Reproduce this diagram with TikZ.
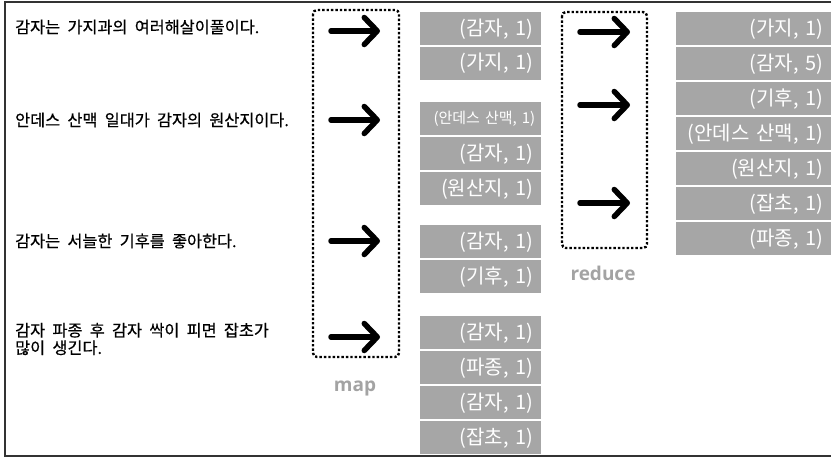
\documentclass[tikz,border=0pt]{standalone}
\usepackage{fontspec}
\setmainfont{Noto Sans CJK KR}
\newfontfamily\krfont[WordSpace=1.5]{Noto Sans CJK KR}
\newfontfamily\krsmall[WordSpace=1.1]{Noto Sans CJK KR}
\newfontfamily\krsent[WordSpace=2,FakeBold=0.6]{Noto Sans CJK KR}
\newfontfamily\lblfont{Open Sans}
\usetikzlibrary{arrows.meta}
\definecolor{boxgray}{HTML}{A6A6A6}
\definecolor{lblgray}{HTML}{A3A3A3}
\definecolor{framec}{HTML}{333333}
\tikzset{
  kv/.style={fill=boxgray, text=white, font=\krfont\fontsize{20}{21}\selectfont,
    minimum height=33pt, text width=105pt, align=right, inner xsep=8pt, inner ysep=0pt,
    anchor=north west},
  kvsmall/.style={kv, font=\krsmall\fontsize{15}{16}\selectfont, inner xsep=6pt, text width=109pt},
  kvres/.style={kv, text width=139pt},
  sent/.style={font=\krsent\fontsize{16.3}{17.5}\selectfont, anchor=west, align=left, inner sep=0pt},
  stagebox/.style={draw=black, line width=2.4pt, dotted, rounded corners=4pt},
  bigarrow/.style={line width=5.5pt, line cap=round,
    -{Straight Barb[length=13pt, width=27pt, line width=5.5pt, round]}},
  stagelbl/.style={font=\lblfont\bfseries\fontsize{19}{20}\selectfont, text=lblgray, inner sep=0pt}
}
\begin{document}
\begin{tikzpicture}[x=1pt, y=-1pt]
\useasboundingbox (0,0) rectangle (831,458);
\draw[framec, line width=1.2pt] (5,2) rectangle (840,456);

% sentences
\node[sent] (s1) at (15,27) {감자는 가지과의 여러해살이풀이다.};
\node[sent] (s2) at (15,120) {안데스 산맥 일대가 감자의 원산지이다.};
\node[sent] (s3) at (15,241) {감자는 서늘한 기후를 좋아한다.};
\node[sent] (s4) at (15,339) {감자 파종 후 감자 싹이 피면 잡초가\\많이 생긴다.};

% map stage
\draw[stagebox] (313,10) rectangle (399,357);
\node[stagelbl] (maplbl) at (355,388) {map};
\coordinate (ma1) at (331,31);  \coordinate (mb1) at (380,31);
\coordinate (ma2) at (331,120); \coordinate (mb2) at (380,120);
\coordinate (ma3) at (331,241); \coordinate (mb3) at (380,241);
\coordinate (ma4) at (331,337); \coordinate (mb4) at (380,337);
\draw[bigarrow] (ma1) -- (mb1);
\draw[bigarrow] (ma2) -- (mb2);
\draw[bigarrow] (ma3) -- (mb3);
\draw[bigarrow] (ma4) -- (mb4);

% map outputs
\node[kv] (m11) at (420,12) {(감자, 1)};
\node[kv] (m12) at (420,46.5) {(가지, 1)};
\node[kvsmall] (m21) at (420,102) {(안데스 산맥, 1)};
\node[kv] (m22) at (420,137) {(감자, 1)};
\node[kv] (m23) at (420,172) {(원산지, 1)};
\node[kv] (m31) at (420,225) {(감자, 1)};
\node[kv] (m32) at (420,260) {(기후, 1)};
\node[kv] (m41) at (420,316) {(감자, 1)};
\node[kv] (m42) at (420,351) {(파종, 1)};
\node[kv] (m43) at (420,386) {(감자, 1)};
\node[kv] (m44) at (420,421) {(잡초, 1)};

% reduce stage
\draw[stagebox] (562,12) rectangle (647,248);
\node[stagelbl] (redlbl) at (603,273) {reduce};
\coordinate (ra1) at (580,32);  \coordinate (rb1) at (630,32);
\coordinate (ra2) at (580,105); \coordinate (rb2) at (630,105);
\coordinate (ra3) at (580,203); \coordinate (rb3) at (630,203);
\draw[bigarrow] (ra1) -- (rb1);
\draw[bigarrow] (ra2) -- (rb2);
\draw[bigarrow] (ra3) -- (rb3);

% reduce outputs
\node[kvres] (r1) at (676,12) {(가지, 1)};
\node[kvres] (r2) at (676,47) {(감자, 5)};
\node[kvres] (r3) at (676,82) {(기후, 1)};
\node[kvres] (r4) at (676,117) {(안데스 산맥, 1)};
\node[kvres] (r5) at (676,152) {(원산지, 1)};
\node[kvres] (r6) at (676,187) {(잡초, 1)};
\node[kvres] (r7) at (676,222) {(파종, 1)};
\end{tikzpicture}
\end{document}
